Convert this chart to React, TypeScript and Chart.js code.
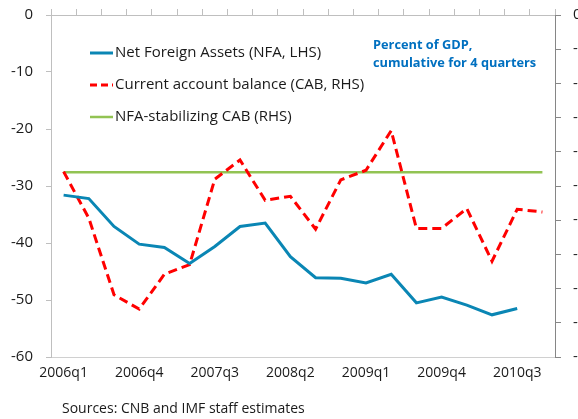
import React, { useEffect, useRef } from "react";
import { Chart, registerables } from "chart.js";

Chart.register(...registerables);

const categories = [
  "2006q1", "2006q2", "2006q3", "2006q4",
  "2007q1", "2007q2", "2007q3", "2007q4",
  "2008q1", "2008q2", "2008q3", "2008q4",
  "2009q1", "2009q2", "2009q3", "2009q4",
  "2010q1", "2010q2", "2010q3", "2010q4",
];

// Net Foreign Assets, % of GDP (left axis)
const nfaValues = [
  -31.6, -32.2, -37.1, -40.2, -40.8, -43.6, -40.6, -37.1, -36.5, -42.4,
  -46.1, -46.2, -47.0, -45.5, -50.5, -49.5, -50.9, -52.6, -51.5, null,
];

// Current account balance, % of GDP (right axis)
const cabValues = [
  -2.29, -2.97, -4.09, -4.3, -3.79, -3.65, -2.4, -2.12, -2.71, -2.65,
  -3.13, -2.41, -2.27, -1.69, -3.12, -3.12, -2.83, -3.6, -2.84, -2.88,
];

// NFA-stabilizing CAB (right axis)
const stabValues = [
  -2.3, -2.3, -2.3, -2.3, -2.3, -2.3, -2.3, -2.3, -2.3, -2.3,
  -2.3, -2.3, -2.3, -2.3, -2.3, -2.3, -2.3, -2.3, -2.3, -2.3,
];

const leftAxisRange = [-60, 0];
const rightAxisRange = [-5, 0];

const seriesLabels = [
  "Net Foreign Assets (NFA, LHS)",
  "Current account balance (CAB, RHS)",
  "NFA-stabilizing CAB (RHS)",
];

const noteLines = ["Percent of GDP,", "cumulative for 4 quarters"];
const sourceText = "Sources: CNB and IMF staff estimates";

const FONT = "'Open Sans', 'Noto Sans', sans-serif";
const BLUE = "#0A86B4";
const RED = "#FF0000";
const GREEN = "#92C353";

const decorPlugin = {
  id: "decor",
  afterDraw(chart: any) {
    const ctx = chart.ctx;
    const a = chart.chartArea;
    ctx.save();
    const colors = [BLUE, RED, GREEN];
    const widths = [3, 3, 2.5];
    const dashes = [[], [7, 4], []];
    const lx0 = a.left + 39;
    const lx1 = a.left + 62;
    for (let i = 0; i < 3; i++) {
      const y = a.top + 38 + i * 32;
      ctx.beginPath();
      ctx.setLineDash(dashes[i]);
      ctx.strokeStyle = colors[i];
      ctx.lineWidth = widths[i];
      ctx.moveTo(lx0, y);
      ctx.lineTo(lx1, y);
      ctx.stroke();
      ctx.setLineDash([]);
      ctx.fillStyle = "#1a1a1a";
      ctx.font = `15px ${FONT}`;
      ctx.textBaseline = "middle";
      ctx.textAlign = "left";
      ctx.fillText(seriesLabels[i], lx1 + 2, y);
    }
    ctx.fillStyle = "#0070C0";
    ctx.font = `bold 12.8px ${FONT}`;
    ctx.fillText(noteLines[0], a.left + 322, a.top + 30);
    ctx.fillText(noteLines[1], a.left + 322, a.top + 48);
    ctx.fillStyle = "#1a1a1a";
    ctx.font = `14px ${FONT}`;
    ctx.fillText(sourceText, a.left + 11, 409);
    ctx.restore();
  },
};

const zeroPad = (s: any) => {
  s.paddingTop = 0;
  s.paddingBottom = 0;
  s.paddingLeft = 0;
  s.paddingRight = 0;
};

export default function App() {
  const ref = useRef<HTMLCanvasElement | null>(null);

  useEffect(() => {
    if (!ref.current) return;
    const chart = new Chart(ref.current, {
      type: "line",
      data: {
        labels: categories,
        datasets: [
          {
            label: seriesLabels[0],
            data: nfaValues,
            yAxisID: "yL",
            xAxisID: "x",
            borderColor: BLUE,
            borderWidth: 3,
            pointRadius: 0,
            tension: 0,
            spanGaps: false,
          },
          {
            label: seriesLabels[1],
            data: cabValues,
            yAxisID: "yR",
            xAxisID: "x",
            borderColor: RED,
            borderWidth: 3,
            borderDash: [9, 5],
            pointRadius: 0,
            tension: 0,
          },
          {
            label: seriesLabels[2],
            data: stabValues,
            yAxisID: "yR",
            xAxisID: "x",
            borderColor: GREEN,
            borderWidth: 2.5,
            pointRadius: 0,
            tension: 0,
          },
        ],
      },
      options: {
        responsive: false,
        animation: false,
        devicePixelRatio: 1,
        layout: { padding: 0 },
        plugins: {
          legend: { display: false },
          tooltip: { enabled: false },
        },
        scales: {
          x: {
            type: "category",
            position: "bottom",
            offset: true,
            grid: { display: false, drawTicks: false },
            border: { display: true, color: "#D0D0D0", width: 1 },
            ticks: {
              autoSkip: false,
              maxRotation: 0,
              minRotation: 0,
              padding: 8,
              color: "#1a1a1a",
              font: { family: FONT, size: 14 },
              callback: (_v: any, i: number) => (i % 3 === 0 ? categories[i] : ""),
            },
            afterFit: (s: any) => { s.height = 62; zeroPad(s); },
          },
          xTop: {
            type: "category",
            position: "top",
            offset: true,
            labels: categories,
            grid: {
              display: true,
              offset: true,
              drawOnChartArea: false,
              drawTicks: true,
              tickLength: 6,
              color: "#BFBFBF",
            },
            border: { display: true, color: "#BFBFBF", width: 1 },
            ticks: { display: false },
            afterFit: (s: any) => { s.height = 15; zeroPad(s); },
          },
          yL: {
            type: "linear",
            position: "left",
            min: leftAxisRange[0],
            max: leftAxisRange[1],
            grid: {
              drawOnChartArea: false,
              drawTicks: true,
              tickLength: 5,
              color: "#BFBFBF",
            },
            border: { display: true, color: "#BFBFBF", width: 1 },
            ticks: {
              stepSize: 10,
              padding: 13,
              color: "#1a1a1a",
              font: { family: FONT, size: 15 },
            },
            afterFit: (s: any) => { s.width = 51; zeroPad(s); },
          },
          yR: {
            type: "linear",
            position: "right",
            min: rightAxisRange[0],
            max: rightAxisRange[1],
            grid: {
              drawOnChartArea: false,
              drawTicks: true,
              tickLength: 6,
              color: "#868686",
            },
            border: { display: true, color: "#868686", width: 1 },
            ticks: {
              stepSize: 0.5,
              padding: 12,
              color: "#1a1a1a",
              font: { family: FONT, size: 15 },
              callback: (v: any) => (v === 0 ? "0" : Number(v).toFixed(1)),
            },
            afterFit: (s: any) => { s.width = 65; zeroPad(s); },
          },
        },
      },
      plugins: [decorPlugin],
    });
    return () => chart.destroy();
  }, []);

  return (
    <div
      style={{
        position: "fixed",
        top: 0,
        left: 0,
        width: 578,
        height: 419,
        overflow: "hidden",
        background: "#fff",
      }}
    >
      <canvas ref={ref} width={620} height={419} style={{ display: "block" }} />
    </div>
  );
}
